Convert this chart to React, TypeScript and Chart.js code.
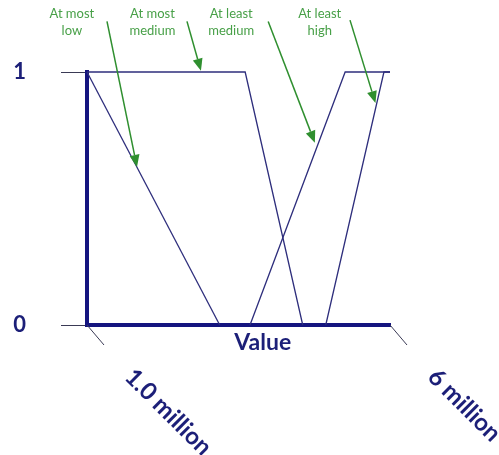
import React, { useEffect, useRef } from "react";
import { Chart, registerables } from "chart.js";

Chart.register(...registerables);

// ---- data ----
const xTickValues = [1, 6];
const xTickLabels = ["1.0 million", "6 million"];
const yTickValues = [0, 1];
const yTickLabels = ["0", "1"];

const atMostLowX = [1, 3.19];
const atMostLowY = [1, 0];
const atMostMediumX = [1, 3.61, 4.56];
const atMostMediumY = [1, 1, 0];
const atLeastMediumX = [3.69, 5.26, 6];
const atLeastMediumY = [0, 1, 1];
const atLeastHighX = [4.94, 5.9, 6];
const atLeastHighY = [0, 1, 1];

const calloutLine1 = ["At most", "At most", "At least", "At least"];
const calloutLine2 = ["low", "medium", "medium", "high"];
const calloutX = [0.75, 2.08, 3.38, 4.84];
const calloutY = [1.23, 1.23, 1.23, 1.23];
const arrowFromX = [1.33, 2.65, 3.99, 5.34];
const arrowFromY = [1.2, 1.2, 1.2, 1.205];
const arrowToX = [1.825, 2.88, 4.76, 5.76];
const arrowToY = [0.625, 1.005, 0.72, 0.877];

const axisTitle = "Value";
const axisTitleAt = 3.9;

// ---- style ----
const NAVY = "#1c1f78";
const AXIS = "#15157f";
const LINE = "#2e2e7c";
const TICK = "#3a3a55";
const GREEN = "#2f8f2f";
const GREEN_TEXT = "#48a048";
const FONT = "Lato, 'Open Sans', sans-serif";

const toPts = (xs: number[], ys: number[]) => xs.map((x, i) => ({ x, y: ys[i] }));

const overlayPlugin = {
  id: "overlay",
  afterDraw(chart: any) {
    const { ctx } = chart;
    const xs = chart.scales.x;
    const ys = chart.scales.y;
    const y0 = ys.getPixelForValue(0);
    ctx.save();

    // diagonal x tick marks + rotated labels
    xTickValues.forEach((v, i) => {
      const px = xs.getPixelForValue(v);
      ctx.strokeStyle = TICK;
      ctx.lineWidth = 1;
      ctx.beginPath();
      ctx.moveTo(px, y0);
      ctx.lineTo(px + 17, y0 + 20);
      ctx.stroke();
      ctx.save();
      ctx.translate(px + 42, y0 + 48);
      ctx.rotate(Math.PI / 4);
      ctx.font = `bold 24px ${FONT}`;
      ctx.fillStyle = NAVY;
      ctx.textAlign = "left";
      ctx.textBaseline = "middle";
      ctx.fillText(xTickLabels[i], 0, 0);
      ctx.restore();
    });

    // axis title
    ctx.font = `bold 23px ${FONT}`;
    ctx.fillStyle = NAVY;
    ctx.textAlign = "center";
    ctx.textBaseline = "middle";
    ctx.fillText(axisTitle, xs.getPixelForValue(axisTitleAt), y0 + 18);

    // callouts
    calloutLine1.forEach((t, i) => {
      const cx = xs.getPixelForValue(calloutX[i]);
      const cy = ys.getPixelForValue(calloutY[i]);
      ctx.font = `13px ${FONT}`;
      ctx.fillStyle = GREEN_TEXT;
      ctx.textAlign = "center";
      ctx.textBaseline = "middle";
      ctx.fillText(t, cx, cy);
      ctx.fillText(calloutLine2[i], cx, cy + 17);

      const sx = xs.getPixelForValue(arrowFromX[i]);
      const sy = ys.getPixelForValue(arrowFromY[i]);
      const ex = xs.getPixelForValue(arrowToX[i]);
      const ey = ys.getPixelForValue(arrowToY[i]);
      const ang = Math.atan2(ey - sy, ex - sx);
      const hl = 12;
      const hw = 5;
      const bx = ex - hl * Math.cos(ang);
      const by = ey - hl * Math.sin(ang);
      ctx.strokeStyle = GREEN;
      ctx.lineWidth = 1.5;
      ctx.beginPath();
      ctx.moveTo(sx, sy);
      ctx.lineTo(bx, by);
      ctx.stroke();
      ctx.fillStyle = GREEN;
      ctx.beginPath();
      ctx.moveTo(ex, ey);
      ctx.lineTo(bx + hw * Math.sin(ang), by - hw * Math.cos(ang));
      ctx.lineTo(bx - hw * Math.sin(ang), by + hw * Math.cos(ang));
      ctx.closePath();
      ctx.fill();
    });

    ctx.restore();
  },
};

export default function App() {
  const ref = useRef<HTMLCanvasElement | null>(null);

  useEffect(() => {
    if (!ref.current) return;
    const ds = (label: string, xs: number[], ys: number[]) => ({
      label,
      data: toPts(xs, ys),
      showLine: true,
      borderColor: LINE,
      borderWidth: 1.3,
      pointRadius: 0,
      fill: false,
      clip: false as any,
    });
    const chart = new Chart(ref.current, {
      type: "scatter",
      data: {
        datasets: [
          ds("At most low", atMostLowX, atMostLowY),
          ds("At most medium", atMostMediumX, atMostMediumY),
          ds("At least medium", atLeastMediumX, atLeastMediumY),
          ds("At least high", atLeastHighX, atLeastHighY),
        ],
      },
      options: {
        animation: false,
        responsive: true,
        maintainAspectRatio: false,
        layout: { padding: { top: 72, right: 109, left: 0, bottom: 0 } },
        plugins: { legend: { display: false }, tooltip: { enabled: false } },
        scales: {
          x: {
            type: "linear",
            min: 1,
            max: 6,
            ticks: { display: false },
            grid: { display: false },
            border: { display: true, color: AXIS, width: 4 },
            afterFit: (s: any) => {
              s.height = 130;
            },
          },
          y: {
            type: "linear",
            min: 0,
            max: 1,
            afterBuildTicks: (s: any) => {
              s.ticks = yTickValues.map((v) => ({ value: v }));
            },
            ticks: {
              padding: 35,
              color: NAVY,
              font: { family: FONT, size: 22, weight: "bold" },
              callback: (v: any) => {
                const i = yTickValues.indexOf(Number(v));
                return i >= 0 ? yTickLabels[i] : "";
              },
            },
            grid: {
              drawOnChartArea: false,
              drawTicks: true,
              tickLength: 26,
              tickColor: TICK,
              tickWidth: 1,
            },
            border: { display: true, color: AXIS, width: 4 },
            afterFit: (s: any) => {
              s.width = 87;
            },
          },
        },
      },
      plugins: [overlayPlugin],
    });
    return () => chart.destroy();
  }, []);

  return (
    <div style={{ position: "absolute", left: 0, top: 0, width: 499, height: 455, background: "#fff" }}>
      <canvas ref={ref} />
    </div>
  );
}
